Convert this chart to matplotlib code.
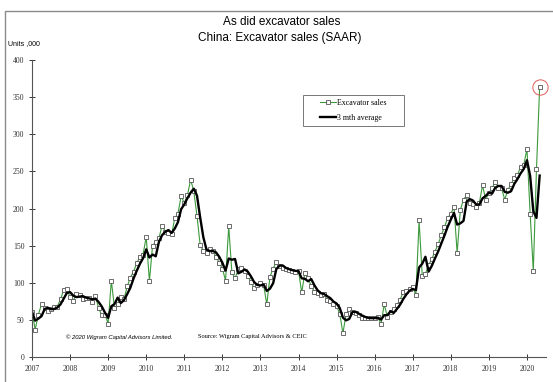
import numpy as np
import pandas as pd
import matplotlib
matplotlib.use("Agg")
from matplotlib import pyplot as plt
from matplotlib.patches import Rectangle

# monthly excavator sales, SAAR, '000 units (Jan 2007 onward)
sales = [61, 37, 57, 71, 66, 62, 65, 67, 68, 78, 90, 91,
         81, 76, 85, 83, 78, 79, 80, 74, 82, 66, 56, 57,
         45, 103, 66, 71, 81, 78, 95, 107, 115, 126, 135, 138,
         162, 102, 150, 155, 160, 177, 169, 167, 165, 187, 193, 217,
         207, 218, 239, 223, 190, 151, 143, 140, 145, 143, 135, 127,
         119, 103, 176, 114, 106, 118, 120, 116, 109, 101, 93, 97,
         99, 97, 71, 108, 119, 128, 122, 120, 118, 117, 116, 115,
         116, 87, 113, 106, 96, 88, 86, 84, 85, 77, 76, 71,
         69, 58, 32, 58, 64, 60, 59, 56, 53, 53, 52, 52,
         53, 54, 44, 71, 54, 60, 64, 70, 77, 87, 89, 92,
         94, 84, 184, 109, 112, 124, 132, 142, 152, 164, 175, 187,
         193, 202, 140, 198, 212, 218, 208, 206, 202, 208, 231, 212,
         221, 227, 236, 228, 227, 212, 225, 233, 241, 245, 256, 259,
         280, 193, 116, 253, 364]
start_year = 2007
years = list(range(2007, 2021))
yticks = list(range(0, 401, 50))

t = start_year + np.arange(len(sales)) / 12.0
avg3 = pd.Series(sales).rolling(3, min_periods=1).mean()

serif = "Liberation Serif"
W, H = 553, 382
fig = plt.figure(figsize=(W / 100, H / 100), dpi=100)
# outer frame of the chart
fig.patches.append(Rectangle((5/W, -0.01), 1.0, 1 - 11/H + 0.01,
                             transform=fig.transFigure, fill=False,
                             edgecolor="#8a8a8a", linewidth=1.0))

ax = fig.add_axes([32/W, 1 - 357/H, 514/W, 297/H])
ax.plot(t, sales, color="#3c9a3c", lw=0.8, marker="s", markersize=2.5,
        markerfacecolor="white", markeredgecolor="#555555", markeredgewidth=0.6,
        label="Excavator sales")
ax.plot(t, avg3, color="black", lw=1.7, label="3 mth average")
# red circle round the latest reading
ax.plot(t[-1], sales[-1], marker="o", markersize=11, markerfacecolor="none",
        markeredgecolor="#e05a5a", markeredgewidth=0.7, clip_on=False)

ax.set_xlim(2007, 2020.5)
ax.set_ylim(0, 400)
ax.set_xticks(years)
ax.set_yticks(yticks)
ax.set_xticklabels([str(y) for y in years], fontfamily=serif, fontsize=5.6)
ax.set_yticklabels([str(v) for v in yticks], fontfamily=serif, fontsize=5.6)
ax.tick_params(direction="inout", length=5, width=0.7, colors="#333333", pad=3)
for s in ["top", "right"]:
    ax.spines[s].set_visible(False)
for s in ["left", "bottom"]:
    ax.spines[s].set_color("#555555")
    ax.spines[s].set_linewidth(0.8)

# legend box drawn by hand, entries placed inside it
fig.patches.append(Rectangle((303/W, 1 - 126/H), 101/W, 31/H,
                             transform=fig.transFigure, fill=False,
                             edgecolor="#777777", linewidth=0.7))
ax.legend(loc="center", bbox_to_anchor=(353/W, 1 - 110.5/H),
          bbox_transform=fig.transFigure,
          prop={"family": serif, "size": 5.7}, frameon=False,
          borderpad=0.0, labelspacing=0.9, handlelength=2.1, handletextpad=0.1)

fig.text(282/W, 1 - 22/H, "As did excavator sales", ha="center", va="center",
         fontfamily="Liberation Sans", fontsize=8.5)
fig.text(280/W, 1 - 38/H, "China: Excavator sales (SAAR)", ha="center", va="center",
         fontfamily="Liberation Sans", fontsize=8.5)
fig.text(8/W, 1 - 44/H, "Units ,000", ha="left", va="center",
         fontfamily="Liberation Sans", fontsize=5)
fig.text(119/W, 1 - 337/H, "\u00a9 2020 Wigram Capital Advisors Limited.",
         ha="center", va="center", fontfamily="Liberation Sans",
         fontstyle="italic", fontsize=4.2)
fig.text(252/W, 1 - 336.5/H, "Source: Wigram Capital Advisors & CEIC",
         ha="center", va="center", fontfamily=serif, fontsize=4.6)

fig.savefig("out.png", dpi=100)
